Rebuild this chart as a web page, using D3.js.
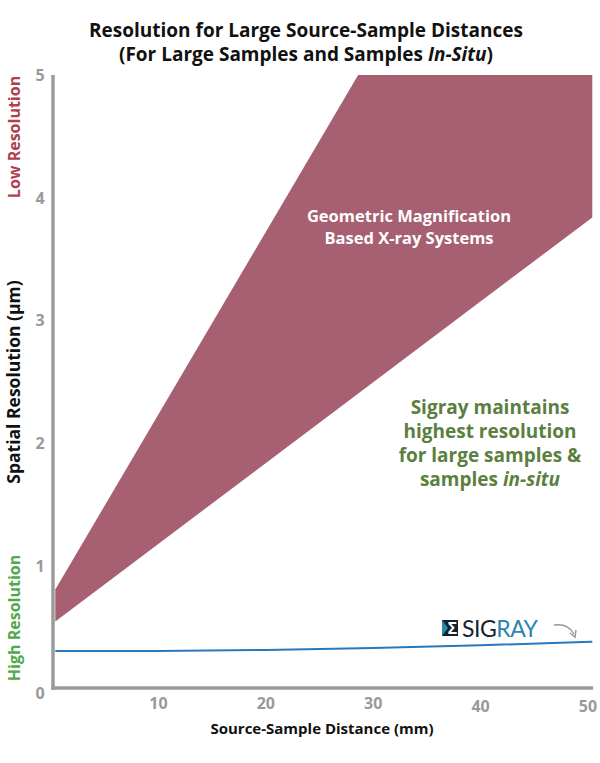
<!DOCTYPE html>
<html>
<head>
<meta charset="utf-8">
<script src="https://cdn.jsdelivr.net/npm/d3@7"></script>
<style>
  body { margin: 0; background: #fff; }
  svg text { font-family: "Open Sans", sans-serif; }
</style>
</head>
<body>
<div id="chart"></div>
<script>
// tick labels
var xTicks = [10, 20, 30, 40, 50];
var yTicks = [0, 1, 2, 3, 4, 5];

// geometric magnification band (upper edge clipped at 5)
var bandUpper = [{x: 0.4, v: 0.81}, {x: 28.6, v: 5}, {x: 50.4, v: 5}];
var bandLower = [{x: 0.4, v: 0.55}, {x: 50.4, v: 3.84}];

// sigray resolution curve
var sigrayX = [0.4, 10, 20, 30, 40, 50.4];
var sigrayV = [0.31, 0.31, 0.318, 0.333, 0.356, 0.385];

var titleLines = ["Resolution for Large Source-Sample Distances"];
var bandText = ["Geometric Magnification", "Based X-ray Systems"];
var sigrayText = ["Sigray maintains", "highest resolution", "for large samples &"];

var width = 600, height = 763;

var x = d3.scaleLinear().domain([0, 50]).range([51, 588]);
var y = d3.scaleLinear().domain([0, 5]).range([689, 75]);

var svg = d3.select("#chart").append("svg")
    .attr("width", width)
    .attr("height", height);

// title
svg.append("text")
    .attr("x", 306).attr("y", 37)
    .attr("text-anchor", "middle")
    .style("font-size", "19px").style("font-weight", "bold").attr("fill", "#111")
    .text(titleLines[0]);
var t2 = svg.append("text")
    .attr("x", 306).attr("y", 61)
    .attr("text-anchor", "middle")
    .style("font-size", "19px").style("font-weight", "bold").attr("fill", "#111");
t2.append("tspan").text("(For Large Samples and Samples ");
t2.append("tspan").style("font-style", "italic").text("In-Situ");
t2.append("tspan").text(")");

// band
var bandPts = bandUpper.concat(bandLower.slice().reverse());
var area = d3.line()
    .x(function(d) { return x(d.x); })
    .y(function(d) { return y(d.v); });
svg.append("path")
    .attr("d", area(bandPts) + "Z")
    .attr("fill", "#a75f72");

// band label
svg.selectAll(".band-label")
    .data(bandText)
    .enter().append("text")
    .attr("class", "band-label")
    .attr("x", 409)
    .attr("y", function(d, i) { return 222 + i * 22; })
    .attr("text-anchor", "middle")
    .style("font-size", "16.5px").style("font-weight", "bold")
    .attr("fill", "#fff")
    .text(function(d) { return d; });

// sigray line
var sigray = sigrayX.map(function(d, i) { return {x: d, v: sigrayV[i]}; });
var line = d3.line()
    .curve(d3.curveMonotoneX)
    .x(function(d) { return x(d.x); })
    .y(function(d) { return y(d.v); });
svg.append("path")
    .attr("d", line(sigray))
    .attr("fill", "none")
    .attr("stroke", "#2878bd")
    .attr("stroke-width", 2);

// axes
svg.append("line")
    .attr("x1", 53).attr("x2", 53)
    .attr("y1", y(5)).attr("y2", 690)
    .attr("stroke", "#9b9b9b").attr("stroke-width", 3.5);
svg.append("line")
    .attr("x1", 51.5).attr("x2", 593)
    .attr("y1", 688).attr("y2", 688)
    .attr("stroke", "#9b9b9b").attr("stroke-width", 3.5);

svg.selectAll(".ytick")
    .data(yTicks)
    .enter().append("text")
    .attr("class", "ytick")
    .attr("x", 40)
    .attr("y", function(d) { return y(d) + (d === 0 ? 4 : 0); })
    .attr("dy", "0.36em")
    .attr("text-anchor", "middle")
    .style("font-size", "16px").style("font-weight", "bold")
    .attr("fill", "#999")
    .text(function(d) { return d; });

svg.selectAll(".xtick")
    .data(xTicks)
    .enter().append("text")
    .attr("class", "xtick")
    .attr("x", function(d) { return x(d); })
    .attr("y", function(d) { return d >= 40 ? 712 : 709; })
    .attr("text-anchor", "middle")
    .style("font-size", "16px").style("font-weight", "bold")
    .attr("fill", "#999")
    .text(function(d) { return d; });

// axis titles
svg.append("text")
    .attr("x", 322).attr("y", 734)
    .attr("text-anchor", "middle")
    .style("font-size", "15px").style("font-weight", "bold").attr("fill", "#111")
    .text("Source-Sample Distance (mm)");
svg.append("text")
    .attr("transform", "translate(20,382) rotate(-90)")
    .attr("text-anchor", "middle")
    .style("font-size", "17.5px").style("font-weight", "bold").attr("fill", "#111")
    .text("Spatial Resolution (µm)");
svg.append("text")
    .attr("transform", "translate(20,137) rotate(-90)")
    .attr("text-anchor", "middle")
    .style("font-size", "16px").style("font-weight", "bold").attr("fill", "#b0404c")
    .text("Low Resolution");
svg.append("text")
    .attr("transform", "translate(20,618) rotate(-90)")
    .attr("text-anchor", "middle")
    .style("font-size", "16px").style("font-weight", "bold").attr("fill", "#4fa84a")
    .text("High Resolution");

// sigray annotation
svg.selectAll(".sig-label")
    .data(sigrayText)
    .enter().append("text")
    .attr("class", "sig-label")
    .attr("x", 490)
    .attr("y", function(d, i) { return 414 + i * 24; })
    .attr("text-anchor", "middle")
    .style("font-size", "19px").style("font-weight", "bold")
    .attr("fill", "#5b7f3f")
    .text(function(d) { return d; });
var s4 = svg.append("text")
    .attr("x", 490).attr("y", 414 + 3 * 24)
    .attr("text-anchor", "middle")
    .style("font-size", "19px").style("font-weight", "bold")
    .attr("fill", "#5b7f3f");
s4.append("tspan").text("samples ");
s4.append("tspan").style("font-style", "italic").text("in-situ");

// logo
var logo = svg.append("g").attr("transform", "translate(442,620)");
logo.append("rect").attr("width", 16).attr("height", 16).attr("fill", "#14222c");
logo.append("path").attr("d", "M0,0 L6,8 L0,16 Z").attr("fill", "#2b8aa6");
logo.append("text")
    .attr("x", 10.5).attr("y", 14)
    .attr("text-anchor", "middle")
    .style("font-size", "16px").style("font-weight", "bold")
    .attr("fill", "#fff")
    .text("Σ");
var lt = logo.append("text")
    .attr("x", 20).attr("y", 16.5)
    .style("font-size", "23px")
    .style("font-family", "Lato, sans-serif")
    .style("letter-spacing", "-0.5px");
lt.append("tspan").attr("fill", "#14222c").text("SIG");
lt.append("tspan").attr("fill", "#2b86b0").text("RAY");
svg.append("path")
    .attr("d", "M554,625 Q568,623 574,634")
    .attr("fill", "none").attr("stroke", "#999").attr("stroke-width", 1.5);
svg.append("path")
    .attr("d", "M570,633 L575,637 L576,630")
    .attr("fill", "none").attr("stroke", "#999").attr("stroke-width", 1.5);
</script>
</body>
</html>
